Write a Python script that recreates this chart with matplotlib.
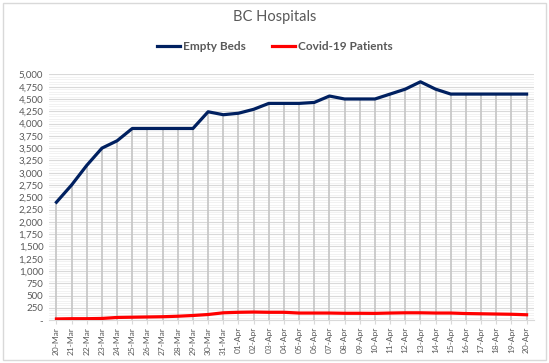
import matplotlib.pyplot as plt
from matplotlib.patches import Rectangle
from matplotlib.ticker import MultipleLocator, FuncFormatter

dates = ['20-Mar', '21-Mar', '22-Mar', '23-Mar', '24-Mar', '25-Mar', '26-Mar', '27-Mar',
         '28-Mar', '29-Mar', '30-Mar', '31-Mar', '01-Apr', '02-Apr', '03-Apr', '04-Apr',
         '05-Apr', '06-Apr', '07-Apr', '08-Apr', '09-Apr', '10-Apr', '11-Apr', '12-Apr',
         '13-Apr', '14-Apr', '15-Apr', '16-Apr', '17-Apr', '18-Apr', '19-Apr', '20-Apr']
empty_beds = [2400, 2750, 3150, 3500, 3650, 3900, 3900, 3900, 3900, 3900, 4240, 4180,
              4210, 4290, 4410, 4410, 4410, 4430, 4560, 4500, 4500, 4500, 4600, 4700,
              4850, 4700, 4600, 4600, 4600, 4600, 4600, 4600]
covid_patients = [25, 30, 30, 35, 55, 60, 65, 70, 80, 95, 115, 150,
                  160, 165, 160, 160, 145, 145, 145, 140, 140, 138, 145, 150,
                  150, 145, 145, 135, 130, 125, 120, 110]

plt.rcParams['font.family'] = ['Lato', 'DejaVu Sans']
txt = '#595959'

fig = plt.figure(figsize=(5.49, 3.63), dpi=100)
fig.patches.append(Rectangle((0.006, 0.008), 0.988, 0.985, transform=fig.transFigure,
                             fill=False, edgecolor='#d9d9d9', linewidth=1))
ax = fig.add_axes([0.089, 0.118, 0.884, 0.677])

x = list(range(len(dates)))

# drop lines
ax.vlines(x, 0, empty_beds, color='#c8c8c8', linewidth=1.3, zorder=1)

ax.plot(x, empty_beds, color='#002060', linewidth=2.3, label='Empty Beds', zorder=3)
ax.plot(x, covid_patients, color='#ff0000', linewidth=2.3, label='Covid-19 Patients', zorder=3)

ax.set_xlim(-0.5, len(dates) - 0.5)
ax.set_ylim(0, 5000)
ax.yaxis.set_major_locator(MultipleLocator(250))
ax.yaxis.set_minor_locator(MultipleLocator(50))
ax.yaxis.set_major_formatter(FuncFormatter(lambda v, p: '-' if v == 0 else f'{int(v):,}'))
ax.grid(axis='y', which='major', color='#d9d9d9', linewidth=0.8, zorder=0)
ax.grid(axis='y', which='minor', color='#f0f0f0', linewidth=0.6, zorder=0)
ax.set_axisbelow(True)

ax.set_xticks(x)
ax.set_xticklabels(dates, rotation=90, fontsize=6, color=txt)
ax.tick_params(axis='x', length=3, color='#d9d9d9', pad=2)
ax.tick_params(axis='y', which='both', length=0, labelsize=7, labelcolor=txt, pad=4)

for s in ['top', 'right', 'left']:
    ax.spines[s].set_visible(False)
ax.spines['bottom'].set_color('#d9d9d9')

fig.text(0.5, 0.953, 'BC Hospitals', ha='center', va='center', fontsize=10.5, color=txt)
fig.legend(loc='center', bbox_to_anchor=(0.5, 0.872), ncol=2, frameon=False,
           prop={'size': 8.5, 'weight': 'bold'}, labelcolor=txt,
           handlelength=2.0, columnspacing=2.2, handletextpad=0.2)

fig.savefig('out.png', dpi=100)
